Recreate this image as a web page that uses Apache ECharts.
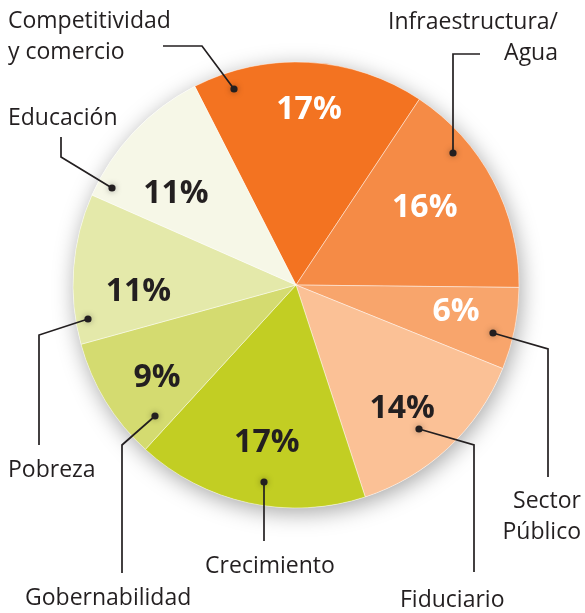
<!DOCTYPE html>
<html><head><meta charset="utf-8">
<script src="https://cdn.jsdelivr.net/npm/echarts@6/dist/echarts.min.js"></script>
<style>html,body{margin:0;padding:0;background:#fff}#c{width:585px;height:613px}</style>
</head><body><div id="c"></div>
<script>
// ---- data ----
const categories = ['Competitividad y comercio', 'Infraestructura/ Agua', 'Sector Público', 'Fiduciario', 'Crecimiento', 'Gobernabilidad', 'Pobreza', 'Educación'];
const categoryLabels = ['Competitividad\ny comercio', 'Infraestructura/\nAgua', 'Sector\nPúblico', 'Fiduciario', 'Crecimiento', 'Gobernabilidad', 'Pobreza', 'Educación'];
const values = [17, 16, 6, 14, 17, 9, 11, 11];

// ---- styles ----
const colors = ['#F37321', '#F58B46', '#F8A56C', '#FBC196', '#C2CE23', '#D4DB70', '#E4E9AA', '#F6F7E7'];
const pctColors = ['#ffffff', '#ffffff', '#ffffff', '#231F20', '#231F20', '#231F20', '#231F20', '#231F20'];
const CENTER = [296, 285];
const R = 223;
// percent label fine offsets (dx, dy)
const pctOffsets = [[4, -18], [-10, -4], [6, -4], [-1, 9], [4, 4], [-5, 11], [-1, 18], [-6, 17]];
// outer label anchors: x, y, align
const nameAnchors = [[8, 37, 'left'], [558, 38, 'right'], [581, 517, 'right'], [400, 600, 'left'], [270, 566, 'center'], [25, 598, 'left'], [8, 470, 'left'], [8, 118, 'left']];
// leader line points (first point = dot inside slice)
const leaderLines = [
  [[234, 89], [202, 46], [163, 46]],
  [[453, 153], [453, 54], [480, 54]],
  [[493, 333], [548, 349], [548, 477]],
  [[419, 429], [474, 445], [474, 572]],
  [[264, 482], [264, 512], [264, 541]],
  [[155, 416], [122, 445], [122, 573]],
  [[88, 319], [39, 335], [39, 445]],
  [[112, 188], [61, 157], [61, 137]]
];

const chart = echarts.init(document.getElementById('c'), null, {renderer: 'canvas'});
const data = categories.map((c, i) => ({name: c, value: values[i], itemStyle: {color: colors[i]}, label: {color: pctColors[i]}}));
const common = {type: 'pie', center: CENTER, startAngle: 117, clockwise: true, avoidLabelOverlap: false, animation: false, minAngle: 0};

chart.setOption({
  backgroundColor: '#ffffff',
  series: [
    Object.assign({}, common, {
      name: 'shadow', radius: R, z: 1, silent: true,
      data: [{value: 1, itemStyle: {color: '#ffffff', shadowBlur: 22, shadowColor: 'rgba(0,0,0,0.35)', shadowOffsetX: 2, shadowOffsetY: 5}}],
      label: {show: false}, labelLine: {show: false}
    }),
    Object.assign({}, common, {
      name: 'main', radius: R, z: 2, silent: true,
      data: data.map(d => Object.assign({}, d, {label: {show: false}})),
      itemStyle: {borderColor: 'rgba(255,255,255,0.55)', borderWidth: 0.8},
      label: {show: false}, labelLine: {show: false}
    }),
    Object.assign({}, common, {
      name: 'pct', radius: [85, R], z: 3, silent: true,
      data: data.map(d => ({name: d.name, value: d.value, itemStyle: {color: 'transparent'}, label: d.label})),
      label: {show: true, position: 'inside', formatter: '{c}%', fontFamily: 'Open Sans', fontWeight: 700, fontSize: 32},
      labelLine: {show: false},
      labelLayout: p => ({dx: pctOffsets[p.dataIndex][0], dy: pctOffsets[p.dataIndex][1]})
    }),
    Object.assign({}, common, {
      name: 'names', radius: R, z: 4, silent: true,
      data: data.map((d, i) => ({name: d.name, value: d.value, itemStyle: {color: 'transparent'}})),
      label: {show: true, position: 'outside', formatter: p => categoryLabels[p.dataIndex], fontFamily: 'Open Sans', fontSize: 23, color: '#231F20', lineHeight: 31},
      labelLine: {show: true, smooth: false, lineStyle: {color: '#231F20', width: 1.7}},
      labelLayout: p => {
        const a = nameAnchors[p.dataIndex];
        return {x: a[0], y: a[1], align: a[2], verticalAlign: 'middle', labelLinePoints: leaderLines[p.dataIndex]};
      }
    })
  ],
  graphic: leaderLines.map(l => ({
    type: 'circle', z: 100, silent: true,
    shape: {cx: l[0][0], cy: l[0][1], r: 3.6},
    style: {fill: '#231F20', shadowBlur: 6, shadowColor: 'rgba(0,0,0,0.35)'}
  }))
});
</script>
</body></html>
